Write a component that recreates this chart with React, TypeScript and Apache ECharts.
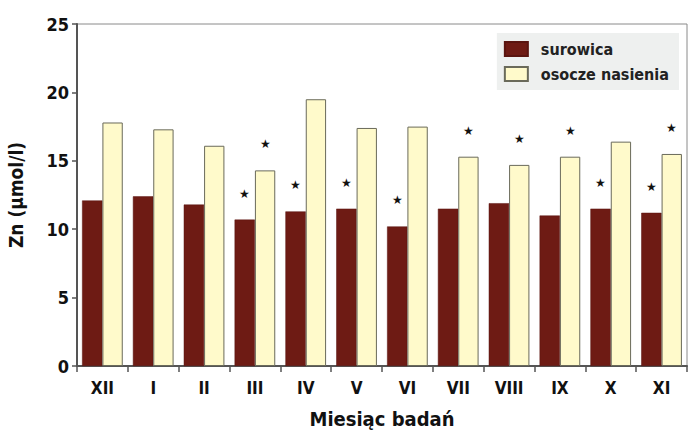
import React, { useEffect, useRef } from "react";
import * as echarts from "echarts";

const months = ["XII", "I", "II", "III", "IV", "V", "VI", "VII", "VIII", "IX", "X", "XI"];
const surowica = [12.1, 12.4, 11.8, 10.7, 11.3, 11.5, 10.2, 11.5, 11.9, 11.0, 11.5, 11.2];
const osocze = [17.8, 17.3, 16.1, 14.3, 19.5, 17.4, 17.5, 15.3, 14.7, 15.3, 16.4, 15.5];
const sigSurowica = [false, false, false, true, true, true, true, false, false, false, true, true];
const sigOsocze = [false, false, false, true, false, false, false, true, true, true, false, true];
const yTicks = [0, 5, 10, 15, 20, 25];

const FONT = "'DejaVu Sans Condensed', 'Liberation Sans Narrow', sans-serif";

export default function App() {
  const ref = useRef<HTMLDivElement>(null);
  useEffect(() => {
    if (!ref.current) return;
    const chart = echarts.init(ref.current, undefined, { renderer: "svg" });
    const starLabel = (sig: boolean[]) => ({
      show: true,
      position: "top",
      distance: 20,
      color: "#111",
      fontSize: 12,
      formatter: (p: any) => (sig[p.dataIndex] ? "★" : ""),
    });
    chart.setOption({
      animation: false,
      backgroundColor: "#ffffff",
      grid: {
        left: 77,
        right: 4,
        top: 24,
        bottom: 64,
        outerBoundsMode: "none",
        containLabel: false,
        show: true,
        borderColor: "#8a8a8a",
        borderWidth: 1,
        backgroundColor: "transparent",
      },
      legend: {
        orient: "vertical",
        right: 12,
        top: 33,
        itemWidth: 23,
        itemHeight: 14,
        itemGap: 9,
        icon: "rect",
        padding: [8, 10, 8, 7],
        backgroundColor: "#eef0ef",
        textStyle: { fontFamily: FONT, fontWeight: "bold", fontSize: 16, color: "#222", padding: [0, 0, 0, 8] },
        data: ["surowica", "osocze nasienia"],
      },
      xAxis: {
        type: "category",
        data: months,
        name: "Miesiąc badań",
        nameLocation: "middle",
        nameGap: 43,
        nameTextStyle: { fontFamily: FONT, fontWeight: "bold", fontSize: 20, color: "#111" },
        axisLine: { lineStyle: { color: "#555", width: 2 } },
        axisTick: { show: true, length: 6, lineStyle: { color: "#555", width: 1.5 } },
        axisLabel: { fontFamily: FONT, fontWeight: "bold", fontSize: 17, color: "#111", margin: 13 },
      },
      yAxis: {
        type: "value",
        min: 0,
        max: 25,
        interval: 5,
        name: "Zn (µmol/l)",
        nameLocation: "middle",
        nameGap: 52,
        nameRotate: 90,
        nameTextStyle: { fontFamily: FONT, fontWeight: "bold", fontSize: 19, color: "#111" },
        axisLine: { show: true, lineStyle: { color: "#555", width: 2 } },
        axisTick: { show: true, length: 5, lineStyle: { color: "#555", width: 1.5 } },
        axisLabel: {
          fontFamily: FONT,
          fontWeight: "bold",
          fontSize: 18,
          color: "#111",
          margin: 8,
          formatter: (v: number) => (yTicks.includes(v) ? String(v) : ""),
        },
        splitLine: { show: false },
      },
      series: [
        {
          name: "surowica",
          type: "bar",
          data: surowica,
          barGap: "0%",
          barCategoryGap: "20%",
          itemStyle: { color: "#6e1b14", borderColor: "#5a1510", borderWidth: 0.5 },
          label: starLabel(sigSurowica),
        },
        {
          name: "osocze nasienia",
          type: "bar",
          data: osocze,
          itemStyle: { color: "#fffacb", borderColor: "#6a6a5a", borderWidth: 1 },
          label: starLabel(sigOsocze),
        },
      ],
    });
    return () => chart.dispose();
  }, []);
  return <div ref={ref} style={{ width: 691, height: 430, position: "absolute", left: 0, top: 0 }} />;
}
